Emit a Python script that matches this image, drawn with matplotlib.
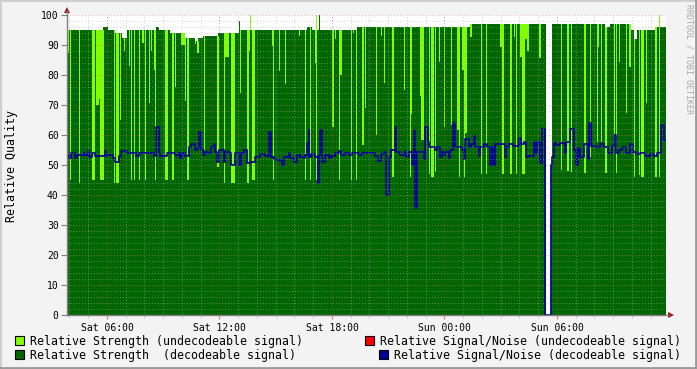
import numpy as np
import matplotlib
matplotlib.use('Agg')
import matplotlib.pyplot as plt
from matplotlib.patches import Rectangle, Polygon

# time axis: minutes since Sat 00:00
t_start, t_end = 232, 2149

# top envelope of relative strength (step-post)
env_t = [232, 347, 363, 386, 408, 424, 517, 526, 562, 610, 642, 651, 667, 715,
         782, 786, 818, 821, 1000, 1016, 1029, 1032, 1038, 1042, 1160, 1522,
         1765, 1782, 1784, 1954, 1970, 2037, 2046, 2056, 2114, 2126, 2130]
env_v = [95, 96, 95, 94, 92.5, 95, 96, 95, 94, 92.5, 91.5, 92.5, 93, 94,
         98, 95, 100, 95, 96, 95, 100, 95, 100, 95, 96, 97,
         np.nan, 50, 97, 96, 97, 95, 92, 95, 96, 100, 96]

# undecodeable stripes: start, end (minutes) and lower edge
stripe_start = [232, 242, 270, 312, 325, 334, 339, 382, 389, 402, 414, 430, 437, 446,
                462, 472, 482, 494, 501, 510, 514, 546, 568, 578, 597, 610, 616, 642,
                648, 670, 712, 734, 738, 757, 786, 808, 814, 818, 824, 888, 891, 910,
                930, 974, 994, 1010, 1026, 1029, 1080, 1090, 1101, 1106, 1141, 1147,
                1157, 1176, 1186, 1221, 1237, 1246, 1272, 1310, 1330, 1333, 1362, 1365,
                1390, 1397, 1410, 1422, 1438, 1461, 1480, 1486, 1496, 1502, 1507, 1522,
                1557, 1573, 1618, 1624, 1650, 1662, 1669, 1682, 1688, 1698, 1704, 1742,
                1813, 1832, 1845, 1886, 1906, 1928, 1931, 1941, 1954, 1982, 1989, 1998,
                2021, 2030, 2046, 2062, 2069, 2085, 2114, 2126]
stripe_end = [238, 245, 274, 322, 334, 339, 350, 386, 398, 405, 418, 434, 440, 450,
              466, 478, 485, 498, 504, 514, 517, 555, 573, 581, 610, 614, 622, 645,
              654, 674, 718, 738, 750, 770, 789, 814, 818, 821, 834, 891, 894, 914,
              933, 978, 997, 1013, 1029, 1032, 1086, 1093, 1106, 1112, 1144, 1150,
              1160, 1182, 1189, 1224, 1240, 1250, 1278, 1314, 1333, 1336, 1365, 1374,
              1394, 1406, 1413, 1426, 1442, 1464, 1486, 1490, 1502, 1507, 1512, 1528,
              1560, 1576, 1624, 1630, 1656, 1666, 1672, 1688, 1698, 1704, 1710, 1749,
              1816, 1838, 1848, 1893, 1909, 1931, 1936, 1944, 1960, 1986, 1992, 2002,
              2024, 2037, 2050, 2066, 2078, 2088, 2120, 2130]
stripe_low = [87.5, 45, 44, 45, 70, 72, 45, 44, 44, 65, 88, 83, 45, 45,
              45, 90.8, 45, 70.8, 88, 81.7, 45, 45, 45, 76, 90, 71.5, 45, 90.5,
              87.5, 55, 49.5, 44, 86, 44, 74, 44, 88, 95, 45, 89.7, 45, 81.3,
              77, 93, 45, 45, 84, 45, 62.6, 92, 45, 80, 45, 94,
              45, 56.7, 69, 60, 93, 77.5, 46, 75, 46, 67, 73, 58.3,
              47, 46, 47.8, 84.5, 62.8, 63.3, 61.7, 46, 81.7, 46, 60.6, 92.8,
              47, 47, 89.5, 47, 47, 92.8, 47, 86.1, 47, 92, 88, 85.6,
              48.3, 48, 47.8, 47.2, 52.8, 57.8, 89.5, 57.8, 47.2, 57.4, 47.2, 84.4,
              67.2, 82.8, 46, 46.7, 46, 70.6, 46, 46]

# relative signal/noise (decodeable), step-post
snr_t = [232, 238, 245, 258, 264, 286, 290, 299, 302, 312, 322, 354, 357, 379, 386,
         398, 405, 424, 453, 462, 510, 517, 526, 530, 552, 578, 590, 594, 600, 610,
         622, 629, 642, 648, 654, 661, 667, 674, 683, 693, 702, 706, 712, 718, 734,
         738, 750, 757, 770, 782, 789, 798, 808, 818, 834, 850, 866, 878, 885, 894,
         901, 920, 926, 942, 946, 958, 968, 978, 990, 994, 1000, 1006, 1008, 1013,
         1026, 1035, 1038, 1042, 1048, 1058, 1070, 1077, 1090, 1102, 1109, 1122,
         1134, 1144, 1166, 1176, 1218, 1227, 1237, 1246, 1253, 1262, 1269, 1282,
         1285, 1298, 1310, 1317, 1326, 1336, 1342, 1346, 1352, 1374, 1378, 1387,
         1390, 1410, 1416, 1426, 1432, 1438, 1442, 1454, 1458, 1467, 1474, 1496,
         1502, 1506, 1518, 1525, 1534, 1538, 1550, 1554, 1566, 1576, 1586, 1592,
         1598, 1602, 1634, 1637, 1646, 1659, 1678, 1685, 1694, 1701, 1707, 1726,
         1730, 1736, 1746, 1752, 1762, 1763, 1782, 1784, 1790, 1797, 1810, 1826,
         1829, 1842, 1854, 1861, 1867, 1874, 1886, 1899, 1902, 1909, 1925, 1938,
         1950, 1963, 1976, 1982, 1989, 1998, 2008, 2021, 2034, 2043, 2053, 2066,
         2082, 2098, 2110, 2120, 2133, 2142]
snr_v = [53.3, 52.2, 54.0, 52.2, 53.2, 54.0, 53.2, 54.8, 52.8, 54.0, 53.0, 54.8, 53.2,
         52.2, 51.1, 53.0, 54.8, 54.0, 53.0, 54.0, 53.0, 62.8, 54.0, 53.0, 54.0, 53.2,
         54.0, 52.2, 54.0, 53.0, 55.9, 56.9, 55.0, 55.8, 61.1, 55.2, 53.3, 54.4, 54.0,
         55.9, 56.9, 54.4, 51.1, 55.0, 51.1, 54.4, 54.0, 50.0, 54.0, 50.0, 54.0, 55.0,
         50.6, 51.1, 52.8, 53.6, 53.0, 61.1, 52.8, 51.9, 51.7, 50.0, 52.8, 54.0, 52.2,
         51.1, 53.3, 52.8, 52.2, 53.3, 57.2, 61.7, 52.8, 53.7, 52.8, 43.9, 53.3, 61.7,
         51.1, 53.3, 52.2, 53.0, 54.0, 54.8, 53.2, 54.0, 53.2, 54.0, 53.2, 54.0, 53.0,
         51.4, 53.7, 54.4, 40.0, 52.8, 55.0, 62.8, 54.4, 53.2, 54.4, 52.8, 54.4, 50.0,
         61.7, 35.6, 54.4, 51.9, 62.8, 57.8, 55.9, 55.0, 55.9, 52.8, 54.4, 53.3, 54.4,
         52.2, 55.0, 63.9, 55.9, 55.0, 51.9, 58.6, 55.9, 56.9, 59.7, 56.1, 53.0, 56.1,
         56.9, 55.9, 50.0, 56.1, 50.0, 56.9, 52.8, 55.9, 56.9, 56.3, 58.9, 56.9, 57.8,
         52.8, 53.0, 57.8, 53.9, 57.8, 50.8, 61.9, 56.7, 0, 50.0, 52.8, 57.5, 56.7,
         57.5, 53.9, 57.8, 61.9, 55.0, 50.0, 55.6, 52.8, 56.9, 51.9, 63.9, 56.3, 55.9,
         56.9, 55.9, 53.9, 56.3, 60.0, 53.9, 55.0, 55.9, 54.1, 56.9, 54.4, 53.7, 53.9,
         53.0, 53.7, 53.0, 53.9, 63.3, 58.3]

x_ticks = [360, 720, 1080, 1440, 1800]
x_labels = ['Sat 06:00', 'Sat 12:00', 'Sat 18:00', 'Sun 00:00', 'Sun 06:00']

legend_labels = ['Relative Strength (undecodeable signal)',
                 'Relative Strength  (decodeable signal)',
                 'Relative Signal/Noise (undecodeable signal)',
                 'Relative Signal/Noise (decodeable signal)']

c_light = '#80ff00'
c_dark = '#006600'
c_blue = '#000098'
c_red = '#ff0000'
mono = 'DejaVu Sans Mono'

fig = plt.figure(figsize=(6.97, 3.69), dpi=100, facecolor='#f3f3f3')
ax = fig.add_axes([67/697, 54/369, 599/697, 300/369])
ax.set_facecolor('white')

et = np.array(env_t + [t_end])
ev = np.array(env_v + [env_v[-1]])
# no data -> nothing drawn (white)
ax.fill_between(et, np.nan_to_num(ev), 0, step='post', color=c_dark, linewidth=0, zorder=1)

# stripe top = envelope value at stripe start
s0 = np.array(stripe_start)
idx = np.searchsorted(et, s0, side='right') - 1
tops = ev[idx]
lows = np.array(stripe_low)
ax.bar(s0, tops - lows, width=np.array(stripe_end) - s0, bottom=lows, align='edge',
       color=c_light, linewidth=0, zorder=2)

st = np.array(snr_t + [t_end])
sv = np.array(snr_v + [snr_v[-1]])
ax.plot(st, sv, drawstyle='steps-post', color=c_blue, lw=1.25, zorder=3)

ax.set_xlim(t_start, t_end)
ax.set_ylim(0, 100)
ax.set_xticks(x_ticks)
ax.set_xticklabels(x_labels, fontfamily=mono, fontsize=7)
ax.set_xticks(np.arange(240, t_end, 60), minor=True)
ax.set_yticks(np.arange(0, 101, 10))
ax.set_yticklabels([str(v) for v in range(0, 101, 10)], fontfamily=mono, fontsize=7)
ax.set_yticks(np.arange(0, 101, 2), minor=True)

for v in range(2, 101, 2):
    if v % 10:
        ax.axhline(v, color='#b0b0b0', lw=0.7, ls=(0, (1, 2)), alpha=0.55, zorder=4)
for v in np.arange(240, t_end, 60):
    if v % 360:
        ax.axvline(v, color='#b0b0b0', lw=0.7, ls=(0, (1, 2)), alpha=0.55, zorder=4)
for v in range(10, 101, 10):
    ax.axhline(v, color='#e07070', lw=0.7, ls=(0, (1, 2)), alpha=0.6, zorder=4)
for v in x_ticks:
    ax.axvline(v, color='#d04040', lw=0.7, ls=(0, (1, 2)), alpha=0.6, zorder=4)

for s in ax.spines.values():
    s.set_visible(False)
ax.tick_params(axis='x', which='major', length=3, color='#e08080', pad=3)
ax.tick_params(axis='x', which='minor', length=2, color='#c0c0c0')
ax.tick_params(axis='y', which='major', length=4, color='#808080', pad=2)
ax.tick_params(axis='y', which='minor', length=0)

# overlay in pixel coordinates
ov = fig.add_axes([0, 0, 1, 1], zorder=10)
ov.set_xlim(0, 697)
ov.set_ylim(369, 0)
ov.axis('off')
ov.patch.set_alpha(0)

# frame
ov.plot([0.5, 696.5], [0.8, 0.8], color='#cfcfcf', lw=1.5)
ov.plot([0.8, 0.8], [0, 369], color='#cfcfcf', lw=1.5)
ov.plot([696, 696], [0, 369], color='#9a9a9a', lw=2)
ov.plot([0, 697], [368, 368], color='#9a9a9a', lw=2)

# axes lines and arrows
ov.plot([67, 67], [315, 11], color='#808080', lw=1)
ov.plot([67, 668], [315, 315], color='#808080', lw=1)
ov.add_patch(Polygon([[64, 13], [70, 13], [67, 7]], closed=True, color='#a01818', lw=0))
ov.add_patch(Polygon([[668, 312], [668, 318], [674, 315]], closed=True, color='#a01818', lw=0))

ov.text(12, 166, 'Relative Quality', rotation=90, ha='center', va='center',
        fontfamily=mono, fontsize=8.35)
ov.text(689, 4, 'RRDTOOL / TOBI OETIKER', rotation=270, ha='center', va='top',
        fontfamily=mono, fontsize=6, color='#a8a8a8')

# legend
leg = [(15, 336, c_light, 30, 341, legend_labels[0]),
       (15, 350, c_dark, 30, 355, legend_labels[1]),
       (365, 336, c_red, 380, 341, legend_labels[2]),
       (379, 350, c_blue, 394, 355, legend_labels[3])]
for bx, by, col, tx, ty, lab in leg:
    ov.add_patch(Rectangle((bx, by), 9, 9, facecolor=col, edgecolor='black', lw=0.8))
    ov.text(tx, ty, lab, ha='left', va='center', fontfamily=mono, fontsize=8.35)

fig.savefig('out.png', dpi=100, facecolor=fig.get_facecolor())
